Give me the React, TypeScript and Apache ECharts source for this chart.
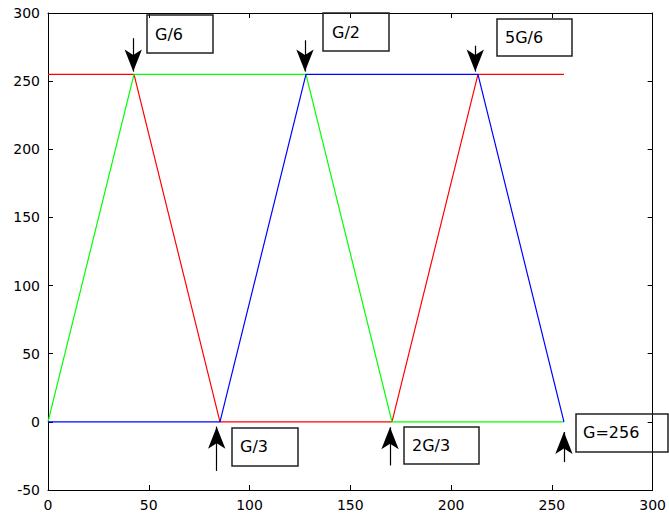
import React, { useEffect, useRef } from "react";
import * as echarts from "echarts";

const redX = [0, 42.67, 85.33, 170.67, 213.33, 256];
const redY = [255, 255, 0, 0, 255, 255];
const greenX = [0, 42.67, 128, 170.67, 256];
const greenY = [0, 255, 255, 0, 0];
const blueX = [0, 85.33, 128, 213.33, 256];
const blueY = [0, 0, 255, 255, 0];

const xTicks = [0, 50, 100, 150, 200, 250, 300];
const yTicks = [-50, 0, 50, 100, 150, 200, 250, 300];

// arrows: [x, tailY, tipY]
const downArrows = [
  [42.3, 281.5, 257],
  [127.5, 280, 257],
  [212, 276, 257],
];
const upArrows = [
  [83.7, -36, -3.5],
  [169.7, -32, -4],
  [256, -29.5, -7.5],
];

const labels = ["G/6", "G/2", "5G/6", "G/3", "2G/3", "G=256"];
// boxes in pixels: [left, top, right, bottom, textX, textY]
const boxes = [
  [147, 15, 213, 53, 155, 34],
  [323, 13, 389, 51, 332, 32],
  [497, 19, 572, 56, 505, 37],
  [232, 428, 298, 466, 240, 446],
  [404, 427, 479, 464, 412, 445],
  [576, 414, 668, 452, 583, 432],
];

const zip = (xs: number[], ys: number[]) => xs.map((x, i) => [x, ys[i]]);

export default function App() {
  const ref = useRef<HTMLDivElement>(null);
  useEffect(() => {
    if (!ref.current) return;
    const chart = echarts.init(ref.current, null, { renderer: "svg" });
    const font = "DejaVu Sans";
    const axisCommon = {
      type: "value" as const,
      interval: 50,
      splitLine: { show: false },
      axisLine: { show: true, onZero: false, lineStyle: { color: "#000", width: 1 } },
      axisTick: { show: true, inside: true, length: 5, lineStyle: { color: "#000" } },
    };
    const arrowLines = [
      ...downArrows.map(([x, a, b]) => [{ coord: [x, a] }, { coord: [x, b] }]),
      ...upArrows.map(([x, a, b]) => [{ coord: [x, a] }, { coord: [x, b] }]),
    ];
    const graphic: any[] = [];
    boxes.forEach((b, i) => {
      graphic.push({
        type: "rect",
        z: 100,
        shape: { x: b[0], y: b[1], width: b[2] - b[0], height: b[3] - b[1] },
        style: { fill: "transparent", stroke: "#222", lineWidth: 1.5 },
      });
      graphic.push({
        type: "text",
        z: 101,
        x: b[4],
        y: b[5],
        style: {
          text: labels[i],
          fill: "#000",
          font: `16px "${font}"`,
          textAlign: "left",
          verticalAlign: "middle",
        },
      });
    });
    chart.setOption({
      animation: false,
      backgroundColor: "#fff",
      grid: { left: 48, top: 13, right: 13, bottom: 24, containLabel: false },
      xAxis: [
        {
          ...axisCommon,
          min: xTicks[0],
          max: xTicks[xTicks.length - 1],
          position: "bottom",
          axisLabel: { color: "#000", fontFamily: font, fontSize: 14, margin: 8 },
        },
        {
          ...axisCommon,
          min: xTicks[0],
          max: xTicks[xTicks.length - 1],
          position: "top",
          axisLabel: { show: false },
        },
      ],
      yAxis: [
        {
          ...axisCommon,
          min: yTicks[0],
          max: yTicks[yTicks.length - 1],
          position: "left",
          axisLabel: { color: "#000", fontFamily: font, fontSize: 14, margin: 8 },
        },
        {
          ...axisCommon,
          min: yTicks[0],
          max: yTicks[yTicks.length - 1],
          position: "right",
          axisLabel: { show: false },
        },
      ],
      series: [
        {
          type: "line",
          data: zip(redX, redY),
          symbol: "none",
          lineStyle: { color: "#ff0000", width: 1.2 },
        },
        {
          type: "line",
          data: zip(greenX, greenY),
          symbol: "none",
          lineStyle: { color: "#00ff00", width: 1.2 },
        },
        {
          type: "line",
          data: zip(blueX, blueY),
          symbol: "none",
          lineStyle: { color: "#0000ff", width: 1.2 },
          markLine: {
            silent: true,
            symbol: ["none", "arrow"],
            symbolSize: [13, 22],
            label: { show: false },
            lineStyle: { color: "#000", width: 1.2, type: "solid" },
            emphasis: { disabled: true },
            data: arrowLines,
          },
        },
      ],
      graphic,
    });
    return () => chart.dispose();
  }, []);
  return (
    <div
      ref={ref}
      style={{ position: "absolute", left: 0, top: 0, width: 669, height: 514, background: "#fff" }}
    />
  );
}
